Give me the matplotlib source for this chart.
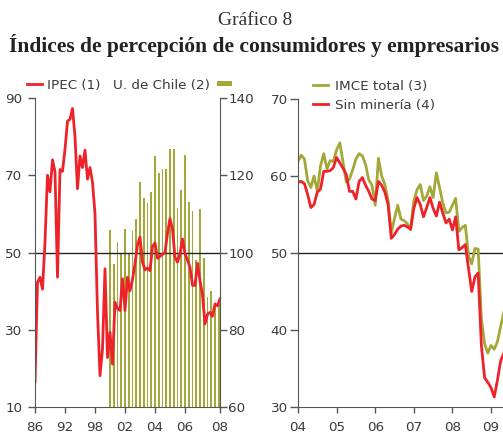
import numpy as np
import matplotlib
matplotlib.use('Agg')
from matplotlib import pyplot as plt

# IPEC (left panel, left axis) - one value per 2 observation units
ipec=[16.5,42.3,43.6,40.5,52.7,70.0,65.7,74.0,70.9,43.6,
      71.5,71.0,76.7,84.0,84.5,87.3,80.0,66.5,75.0,72.0,
      76.5,69.0,72.0,68.2,60.0,34.5,18.1,25.0,45.8,22.8,
      29.3,21.1,37.1,35.5,35.0,43.2,35.0,43.6,40.1,43.0,
      47.1,52.0,54.0,47.5,45.5,46.0,45.3,51.5,52.5,48.5,
      49.0,49.5,50.0,55.0,58.8,56.0,48.8,47.5,49.7,53.5,
      49.7,48.0,46.2,41.5,41.5,47.2,42.7,39.0,31.5,34.0,
      34.5,33.5,36.7,36.2,38.0]
# U. de Chile (left panel, right axis), quarterly bars
uchile=[105.7,97.0,102.7,100.0,106.0,100.0,105.5,108.8,118.2,114.0,
        112.8,115.7,124.9,120.5,121.7,121.7,126.9,126.7,111.5,116.3,
        125.2,113.2,110.7,98.0,111.2,98.7,88.4,90.0,86.5,86.7]
left_ticks=[0,24,48,72,96,120,148]
left_labels=['86','92','98','02','04','06','08']

# IMCE monthly from Jan-2004
imce=[61.9,62.7,62.2,59.4,58.5,60.0,58.0,61.3,62.9,60.9,
      62.0,61.9,63.4,64.3,61.8,59.2,59.6,60.8,62.2,62.9,
      62.6,61.5,59.5,58.8,56.2,62.3,60.0,58.9,56.8,52.6,
      54.5,56.2,54.4,54.2,53.8,53.0,56.8,58.2,58.9,56.8,
      57.4,58.6,57.2,60.4,58.5,56.5,55.2,55.3,56.2,57.1,
      52.8,53.3,53.6,49.6,48.6,50.6,50.5,41.5,38.2,37.0,
      38.0,37.5,38.5,40.5,42.3]
sinmin=[59.2,59.3,59.0,57.6,55.9,56.3,57.9,58.3,60.6,60.6,
        60.7,61.1,62.4,61.7,61.0,60.2,58.0,58.0,57.0,59.3,
        59.8,58.8,58.0,57.0,56.8,59.3,58.8,57.9,56.3,51.9,
        52.4,53.1,53.5,53.6,53.4,53.1,55.8,57.2,56.3,54.7,
        55.9,57.2,55.8,54.8,56.6,55.2,53.9,54.4,53.0,54.7,
        50.4,50.7,51.1,48.0,45.0,46.9,47.4,38.0,33.8,33.2,
        32.5,31.3,33.5,36.0,37.0]
right_ticks=[2004,2005,2006,2007,2008,2009]
right_labels=['04','05','06','07','08','09']

red='#EE2229'
green='#A4A838'
grey='#555555'
txt='#3a3a3a'
fs=9.7

fig=plt.figure(figsize=(5.03,4.34),dpi=100)
fig.text(0.508,0.953,'Gráfico 8',ha='center',va='center',family='Liberation Serif',fontsize=14,color='#333333')
fig.text(0.504,0.895,'Índices de percepción de consumidores y empresarios',ha='center',va='center',
         family='Liberation Serif',fontweight='bold',fontsize=15.5,color='#222222')

# left panel
ax=fig.add_axes([35/503,1-407/434,185/503,309/434])
ax2=ax.twinx()
xi=np.arange(len(ipec))*2
xb=60+np.arange(len(uchile))*3
bars=ax2.bar(xb,[v-60 for v in uchile],bottom=60,width=1.4,color=green,label='U. de Chile (2)')
ax.set_zorder(ax2.get_zorder()+1)
ax.patch.set_visible(False)
ax.axhline(50,color='#222222',lw=1)
l1,=ax.plot(xi,ipec,color=red,lw=2,label='IPEC (1)')
ax.set_xlim(0,148)
ax.set_ylim(10,90)
ax2.set_ylim(60,140)
ax.set_yticks([10,30,50,70,90])
ax2.set_yticks([60,80,100,120,140])
ax.set_xticks(left_ticks)
ax.set_xticklabels(left_labels)
for a in (ax,ax2):
    for s in a.spines.values():
        s.set_color(grey)
    a.spines['top'].set_visible(False)
ax.spines['right'].set_visible(False)
ax2.spines['left'].set_visible(False)
ax2.spines['bottom'].set_visible(False)
ax.tick_params(axis='y',direction='out',length=5,width=1,color=grey,labelsize=fs,labelcolor=txt,pad=4)
ax.tick_params(axis='x',direction='out',length=4,width=1,color=grey,labelsize=fs,labelcolor=txt,pad=6)
ax2.tick_params(axis='y',direction='out',length=5,width=1,color=grey,labelsize=fs,labelcolor=txt,pad=1)

lg1=ax.legend(handles=[l1],loc='center left',bbox_to_anchor=(27/503,1-85/434),bbox_transform=fig.transFigure,
              frameon=False,fontsize=fs,handlelength=1.1,handletextpad=0.4,borderpad=0,borderaxespad=0)
for t in lg1.get_texts(): t.set_color(txt)
lg2=ax2.legend(handles=[bars],loc='center right',bbox_to_anchor=(232/503,1-85/434),bbox_transform=fig.transFigure,
               frameon=False,fontsize=fs,handlelength=1.1,handleheight=0.25,handletextpad=0.5,borderpad=0,
               borderaxespad=0,markerfirst=False)
for t in lg2.get_texts(): t.set_color(txt)

# right panel
bx=fig.add_axes([298/503,1-407/434,205/503,308/434])
xm=2004+np.arange(len(imce))/12
bx.axhline(50,color='#222222',lw=1)
bx.plot(xm,imce,color=green,lw=2,label='IMCE total (3)')
bx.plot(xm,sinmin,color=red,lw=2,label='Sin minería (4)')
bx.set_xlim(2004,2009.31)
bx.set_ylim(30,70)
bx.set_yticks([30,40,50,60,70])
bx.set_xticks(right_ticks)
bx.set_xticklabels(right_labels)
for s in bx.spines.values():
    s.set_color(grey)
bx.spines['top'].set_visible(False)
bx.spines['right'].set_visible(False)
bx.tick_params(axis='y',direction='out',length=6,width=1,color=grey,labelsize=fs,labelcolor=txt,pad=1.5)
bx.tick_params(axis='x',direction='out',length=4,width=1,color=grey,labelsize=fs,labelcolor=txt,pad=6)
lg3=bx.legend(loc='center left',bbox_to_anchor=(313/503,1-96/434),bbox_transform=fig.transFigure,
              frameon=False,fontsize=fs,handlelength=1.1,handletextpad=0.5,borderpad=0,borderaxespad=0,
              labelspacing=0.45)
for t in lg3.get_texts(): t.set_color(txt)

fig.savefig('out.png',dpi=100)
